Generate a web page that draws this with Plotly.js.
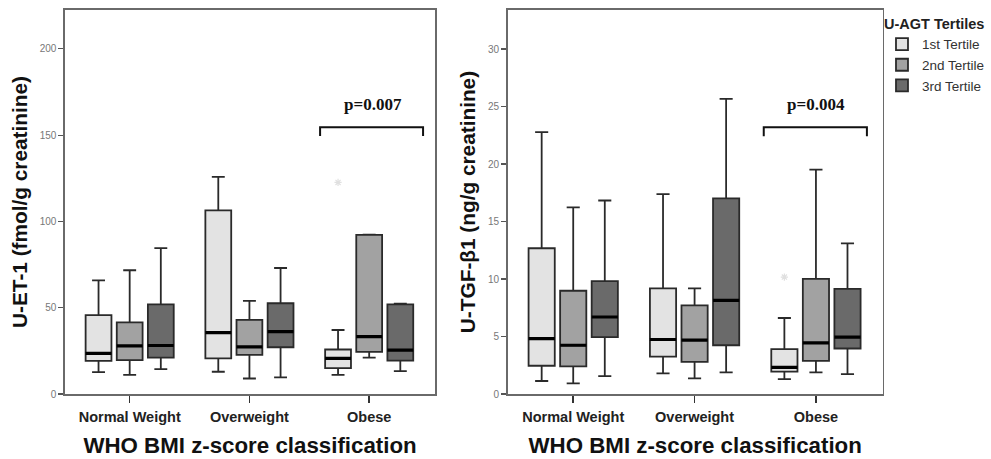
<!DOCTYPE html>
<html>
<head>
<meta charset="utf-8">
<script src="https://cdn.plot.ly/plotly-3.0.1.min.js"></script>
<style>html,body{margin:0;padding:0;background:#fff;}#chart{width:991px;height:459px;}</style>
</head>
<body>
<div id="chart"></div>
<script>
// ---------- data ----------
const categories = ["Normal Weight", "Overweight", "Obese"];
const tertileNames = ["1st Tertile", "2nd Tertile", "3rd Tertile"];

// U-ET-1 (fmol/g creatinine)
const et_t1_low = [12.7, 12.9, 11.1];
const et_t1_q1  = [19.2, 20.7, 15.0];
const et_t1_med = [23.6, 35.6, 20.7];
const et_t1_q3  = [45.7, 106.4, 25.8];
const et_t1_up  = [65.9, 125.8, 37.1];

const et_t2_low = [11.1, 9.0, 21.1];
const et_t2_q1  = [19.6, 22.7, 24.4];
const et_t2_med = [27.9, 27.3, 33.3];
const et_t2_q3  = [41.5, 43.0, 92.2];
const et_t2_up  = [71.7, 54.0, 92.4];

const et_t3_low = [14.4, 9.6, 13.3];
const et_t3_q1  = [21.1, 27.1, 19.4];
const et_t3_med = [28.1, 36.1, 25.4];
const et_t3_q3  = [51.9, 52.6, 51.9];
const et_t3_up  = [84.5, 73.0, 52.3];

const et_outlier_t1 = [null, null, 122.6];

// U-TGF-β1 (ng/g creatinine)
const tgf_t1_low = [1.13, 1.79, 1.30];
const tgf_t1_q1  = [2.46, 3.26, 1.94];
const tgf_t1_med = [4.82, 4.74, 2.31];
const tgf_t1_q3  = [12.68, 9.18, 3.90];
const tgf_t1_up  = [22.78, 17.38, 6.61];

const tgf_t2_low = [0.93, 1.36, 1.88];
const tgf_t2_q1  = [2.40, 2.80, 2.89];
const tgf_t2_med = [4.24, 4.68, 4.45];
const tgf_t2_q3  = [8.98, 7.71, 10.02];
const tgf_t2_up  = [16.23, 9.18, 19.52];

const tgf_t3_low = [1.56, 1.88, 1.73];
const tgf_t3_q1  = [4.94, 4.24, 3.96];
const tgf_t3_med = [6.70, 8.14, 4.94];
const tgf_t3_q3  = [9.82, 17.01, 9.15];
const tgf_t3_up  = [16.83, 25.67, 13.11];

const tgf_outlier_t1 = [null, null, 10.17];

const pLabels = ["p=0.007", "p=0.004"];
const yTicksET = [0, 50, 100, 150, 200];
const yTicksTGF = [0, 5, 10, 15, 20, 25, 30];

// ---------- styles ----------
const fills = ["#e3e3e3", "#a2a2a2", "#6a6a6a"];
const lineCol = "#2a2a2a";
const FONT = "Liberation Sans, Arial, sans-serif";

function boxTrace(name, idx, xa, ya, low, q1, med, q3, up, showLegend) {
  return {
    type: "box", name: name, legendgroup: "t" + idx, showlegend: showLegend,
    x: categories, q1: q1, median: med, q3: q3, lowerfence: low, upperfence: up,
    xaxis: xa, yaxis: ya, offsetgroup: "t" + idx, alignmentgroup: xa,
    fillcolor: fills[idx - 1], line: {color: lineCol, width: 1.8},
    whiskerwidth: 0.5, boxpoints: false, hoverinfo: "skip"
  };
}
function medianTrace(idx, xa, ya, med) {
  return {
    type: "box", showlegend: false, x: categories,
    q1: med, median: med, q3: med, lowerfence: med, upperfence: med,
    xaxis: xa, yaxis: ya, offsetgroup: "t" + idx, alignmentgroup: xa,
    fillcolor: "rgba(0,0,0,0)", line: {color: "#000", width: 3.2},
    whiskerwidth: 0, boxpoints: false, hoverinfo: "skip"
  };
}
function outlierTrace(idx, xa, ya, vals) {
  return {
    type: "scatter", mode: "markers", showlegend: false, x: categories, y: vals,
    xaxis: xa, yaxis: ya, offsetgroup: "t" + idx, alignmentgroup: xa,
    marker: {symbol: "asterisk-open", size: 6, color: "#e0e0e0", line: {color: "#e0e0e0", width: 1.2}},
    hoverinfo: "skip"
  };
}
const empty = [null, null, null];

const data = [
  boxTrace(tertileNames[0], 1, "x", "y", et_t1_low, et_t1_q1, et_t1_med, et_t1_q3, et_t1_up, true),
  boxTrace(tertileNames[1], 2, "x", "y", et_t2_low, et_t2_q1, et_t2_med, et_t2_q3, et_t2_up, true),
  boxTrace(tertileNames[2], 3, "x", "y", et_t3_low, et_t3_q1, et_t3_med, et_t3_q3, et_t3_up, true),
  medianTrace(1, "x", "y", et_t1_med),
  medianTrace(2, "x", "y", et_t2_med),
  medianTrace(3, "x", "y", et_t3_med),
  outlierTrace(1, "x", "y", et_outlier_t1),
  outlierTrace(2, "x", "y", empty),
  outlierTrace(3, "x", "y", empty),

  boxTrace(tertileNames[0], 1, "x2", "y2", tgf_t1_low, tgf_t1_q1, tgf_t1_med, tgf_t1_q3, tgf_t1_up, false),
  boxTrace(tertileNames[1], 2, "x2", "y2", tgf_t2_low, tgf_t2_q1, tgf_t2_med, tgf_t2_q3, tgf_t2_up, false),
  boxTrace(tertileNames[2], 3, "x2", "y2", tgf_t3_low, tgf_t3_q1, tgf_t3_med, tgf_t3_q3, tgf_t3_up, false),
  medianTrace(1, "x2", "y2", tgf_t1_med),
  medianTrace(2, "x2", "y2", tgf_t2_med),
  medianTrace(3, "x2", "y2", tgf_t3_med),
  outlierTrace(1, "x2", "y2", tgf_outlier_t1),
  outlierTrace(2, "x2", "y2", empty),
  outlierTrace(3, "x2", "y2", empty)
];

const yDomain = [0.1416, 0.9782];
function xAxis(domain, anchor) {
  return {
    domain: domain, anchor: anchor, type: "category", range: [-0.54, 2.55],
    showline: true, mirror: true, linecolor: "#6a6a6a", linewidth: 1.6,
    ticks: "outside", ticklen: 7, tickwidth: 1.6, tickcolor: "#333",
    ticklabelstandoff: 2,
    showgrid: false, zeroline: false,
    tickfont: {family: FONT, size: 14.5, color: "#222", weight: "bold"},
    title: {text: "WHO BMI z-score classification", font: {family: FONT, size: 22.3, color: "#111", weight: "bold"}, standoff: 13}
  };
}
function yAxis(domain, anchor, range, ticks, title) {
  return {
    domain: domain, anchor: anchor, range: range, tickvals: ticks,
    showline: true, mirror: true, linecolor: "#6a6a6a", linewidth: 1.6,
    ticks: "outside", ticklen: 5, tickwidth: 1.2, tickcolor: "#555",
    showgrid: false, zeroline: false,
    tickfont: {family: FONT, size: 10, color: "#777"},
    title: {text: title, font: {family: FONT, size: 20.8, color: "#111", weight: "bold"}, standoff: 6}
  };
}

const layout = {
  width: 991, height: 459,
  margin: {l: 0, r: 0, t: 0, b: 0},
  paper_bgcolor: "#fff", plot_bgcolor: "#fff",
  boxmode: "group", boxgap: 0.22, boxgroupgap: 0.17,
  scattermode: "group", scattergap: 0.22,
  xaxis: xAxis([0.0656, 0.4390], "y"),
  yaxis: yAxis(yDomain, "x", [0, 222.5], yTicksET, "U-ET-1 (fmol/g creatinine)"),
  xaxis2: xAxis([0.5123, 0.8907], "y2"),
  yaxis2: yAxis(yDomain, "x2", [0, 33.4], yTicksTGF, "U-TGF-β1 (ng/g creatinine)"),
  legend: {
    x: 0.890, y: 0.978, xanchor: "left", yanchor: "top",
    bgcolor: "rgba(0,0,0,0)", borderwidth: 0,
    font: {family: FONT, size: 13.5, color: "#333"},
    title: {text: "U-AGT Tertiles", font: {family: FONT, size: 14.5, color: "#222", weight: "bold"}},
    tracegroupgap: 0
  },
  shapes: [
    {type: "path", xref: "x", yref: "y", path: "M1.59,149.5 L1.59,154.6 L2.45,154.6 L2.45,149.5", line: {color: "#111", width: 2}},
    {type: "path", xref: "x2", yref: "y2", path: "M1.57,22.43 L1.57,23.21 L2.42,23.21 L2.42,22.43", line: {color: "#111", width: 2}}
  ],
  annotations: [
    {xref: "x", yref: "y", x: 2.03, y: 168, text: "<b>" + pLabels[0] + "</b>", showarrow: false,
     font: {family: "Liberation Serif, Times New Roman, serif", size: 17, color: "#111"}},
    {xref: "x2", yref: "y2", x: 2.0, y: 25.2, text: "<b>" + pLabels[1] + "</b>", showarrow: false,
     font: {family: "Liberation Serif, Times New Roman, serif", size: 17, color: "#111"}}
  ]
};

Plotly.newPlot("chart", data, layout, {displayModeBar: false, staticPlot: true});
</script>
</body>
</html>
